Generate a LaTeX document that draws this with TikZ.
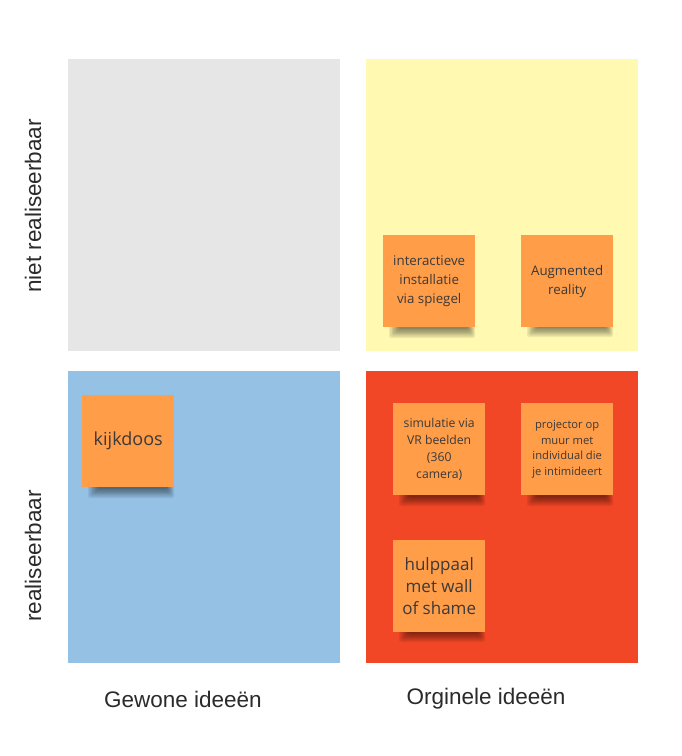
\documentclass[tikz,border=0pt]{standalone}
\usepackage{fontspec}
\setmainfont{Liberation Sans}
\newfontfamily\notefont{Open Sans}
\definecolor{qgray}{HTML}{E6E6E6}
\definecolor{qyellow}{HTML}{FFF9B1}
\definecolor{qblue}{HTML}{95C1E5}
\definecolor{qred}{HTML}{F24726}
\definecolor{notefill}{HTML}{FF9D48}
\definecolor{notetext}{HTML}{3A3A3A}
\definecolor{axistext}{HTML}{2B2B2B}
\tikzset{
  quad/.style={draw=none, minimum width=272pt, minimum height=292pt, anchor=north west, inner sep=0pt},
  sticky/.style={fill=notefill, minimum width=92pt, minimum height=92pt, anchor=north west, inner sep=0pt,
     align=center, text=notetext, font=\notefont},
  axis/.style={font=\fontsize{22.5}{26}\selectfont, text=axistext}
}
\begin{document}
\begin{tikzpicture}[x=1pt,y=-1pt]
\useasboundingbox[fill=white] (0,0) rectangle (682,756);
\node[quad, fill=qgray] (q1) at (68,59) {};
\node[quad, fill=qyellow] (q2) at (366,59) {};
\node[quad, fill=qblue] (q3) at (68,371) {};
\node[quad, fill=qred] (q4) at (366,371) {};

% soft shadows under the notes
\foreach \x/\y in {383/327, 521/326, 393/495, 521/495, 82/487, 393/631}{
  \foreach \k in {0,...,7}{
    \fill[black, opacity=0.07, rounded corners=2pt] ({\x+6+\k*1.4},{\y-1}) rectangle ({\x+92-\k*1.0},{\y+11-\k*1.3});
  }
}

\node[sticky, font=\notefont\fontsize{13.3}{19}\selectfont] (n1) at (383,235) {interactieve\\installatie\\via spiegel};
\node[sticky, font=\notefont\fontsize{13.3}{19}\selectfont] (n2) at (521,235) {Augmented\\reality};
\node[sticky, font=\notefont\fontsize{12.2}{16.8}\selectfont] (n3) at (393,403) {simulatie via\\VR beelden\\(360\\camera)};
\node[sticky, font=\notefont\fontsize{11.2}{15.8}\selectfont] (n4) at (521,403) {projector op\\muur met\\individual die\\je intimideert};
\node[sticky, font=\notefont\fontsize{18}{20}\selectfont] (n5) at (82,395) {kijkdoos};
\node[sticky, font=\notefont\fontsize{17}{22}\selectfont] (n6) at (393,540) {hulppaal\\met wall\\of shame};

\node[axis] (lx1) at (183,699) {Gewone ideeën};
\node[axis] (lx2) at (486,699) {Orginele ideeën};
\node[axis, rotate=90] (ly1) at (33,206) {niet realiseerbaar};
\node[axis, rotate=90] (ly2) at (33,556) {realiseerbaar};
\end{tikzpicture}
\end{document}
